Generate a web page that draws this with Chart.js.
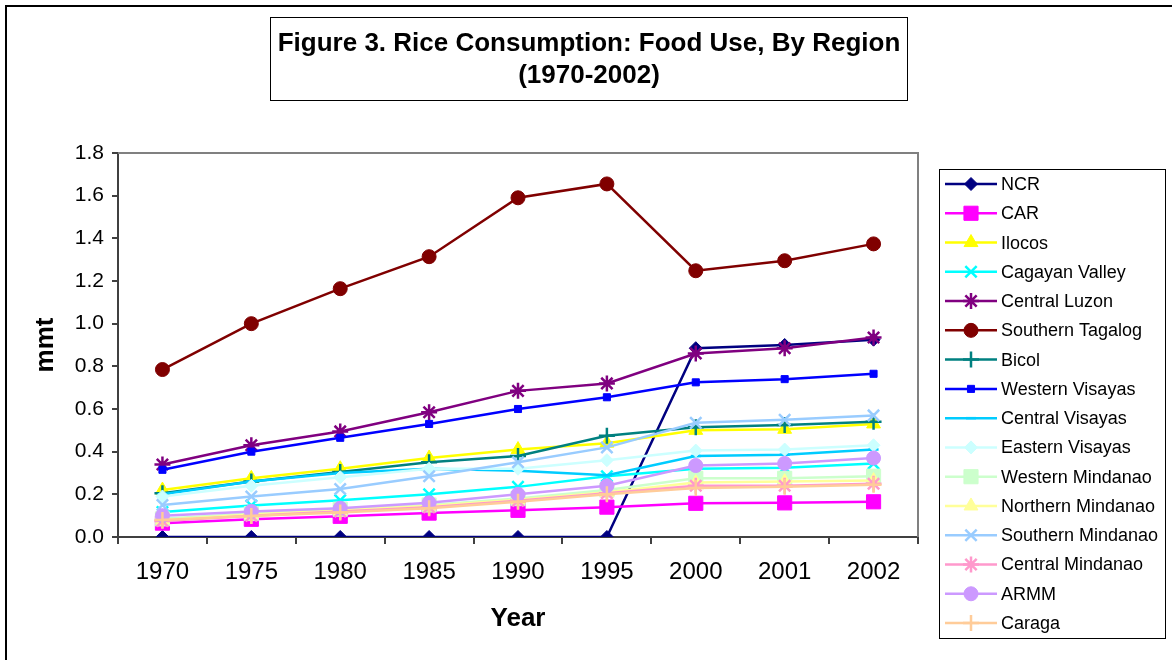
<!DOCTYPE html>
<html>
<head>
<meta charset="utf-8">
<script src="https://cdn.jsdelivr.net/npm/chart.js@4.4.1/dist/chart.umd.min.js"></script>
<style>
  html, body { margin: 0; padding: 0; background: #fff; }
  #wrap { width: 1172px; height: 660px; }
</style>
</head>
<body>
<div id="wrap"><canvas id="chartRice" width="1172" height="660"></canvas></div>
<script>
// data (mmt)
const years = ['1970', '1975', '1980', '1985', '1990', '1995', '2000', '2001', '2002'];
const yTicks = [0, 0.2, 0.4, 0.6, 0.8, 1.0, 1.2, 1.4, 1.6, 1.8];

const ncr              = [0, 0, 0, 0, 0, 0, 0.885, 0.90, 0.925];
const car              = [0.065, 0.083, 0.097, 0.112, 0.125, 0.140, 0.158, 0.160, 0.165];
const ilocos           = [0.22, 0.275, 0.32, 0.37, 0.41, 0.44, 0.50, 0.505, 0.53];
const cagayanValley    = [0.117, 0.148, 0.172, 0.20, 0.235, 0.285, 0.32, 0.325, 0.345];
const centralLuzon     = [0.34, 0.43, 0.495, 0.585, 0.685, 0.72, 0.86, 0.885, 0.935];
const southernTagalog  = [0.785, 1.0, 1.164, 1.314, 1.59, 1.655, 1.248, 1.295, 1.374];
const bicol            = [0.205, 0.26, 0.305, 0.35, 0.38, 0.475, 0.515, 0.525, 0.54];
const westernVisayas   = [0.315, 0.40, 0.465, 0.53, 0.60, 0.655, 0.725, 0.74, 0.765];
const centralVisayas   = [0.20, 0.26, 0.30, 0.32, 0.31, 0.29, 0.38, 0.385, 0.41];
const easternVisayas   = [0.19, 0.24, 0.28, 0.32, 0.32, 0.36, 0.405, 0.41, 0.43];
const westernMindanao  = [0.085, 0.11, 0.13, 0.15, 0.18, 0.22, 0.275, 0.275, 0.285];
const northernMindanao = [0.08, 0.105, 0.125, 0.145, 0.175, 0.21, 0.255, 0.26, 0.265];
const southernMindanao = [0.15, 0.19, 0.225, 0.285, 0.35, 0.42, 0.535, 0.55, 0.57];
const centralMindanao  = [0.075, 0.10, 0.12, 0.14, 0.17, 0.205, 0.24, 0.24, 0.25];
const armm             = [0.10, 0.12, 0.135, 0.16, 0.20, 0.24, 0.335, 0.345, 0.37];
const caraga           = [0.08, 0.098, 0.115, 0.135, 0.165, 0.20, 0.23, 0.235, 0.245];

const regions = ['NCR', 'CAR', 'Ilocos', 'Cagayan Valley', 'Central Luzon', 'Southern Tagalog', 'Bicol',
  'Western Visayas', 'Central Visayas', 'Eastern Visayas', 'Western Mindanao', 'Northern Mindanao',
  'Southern Mindanao', 'Central Mindanao', 'ARMM', 'Caraga'];
const values = [ncr, car, ilocos, cagayanValley, centralLuzon, southernTagalog, bicol, westernVisayas,
  centralVisayas, easternVisayas, westernMindanao, northernMindanao, southernMindanao, centralMindanao, armm, caraga];

// colours and markers (Excel style)
const colors = ['#000080', '#FF00FF', '#FFFF00', '#00FFFF', '#800080', '#800000', '#008080', '#0000FF',
  '#00CCFF', '#CCFFFF', '#CCFFCC', '#FFFF99', '#99CCFF', '#FF99CC', '#CC99FF', '#FFCC99'];
const markers = ['rectRot', 'rect', 'triangle', 'crossRot', 'star', 'circle', 'cross', 'rect',
  'line', 'rectRot', 'rect', 'triangle', 'crossRot', 'star', 'circle', 'cross'];
const markerSize = [6.5, 10, 8, 8, 8, 7, 8, 5, 5, 6.5, 10, 8, 8, 8, 7, 8];

const FONT = "'Liberation Sans', Arial, sans-serif";
const strokeOnly = ['crossRot', 'star', 'cross', 'line'];

const datasets = regions.map((name, i) => ({
  label: name,
  data: values[i],
  borderColor: colors[i],
  backgroundColor: colors[i],
  borderWidth: 2.5,
  pointStyle: markers[i],
  pointRadius: markerSize[i],
  pointHoverRadius: markerSize[i],
  pointBorderWidth: strokeOnly.includes(markers[i]) ? 2.5 : 1,
  pointBorderColor: colors[i],
  pointBackgroundColor: colors[i],
  tension: 0,
  order: -i
}));

const framePlugin = {
  id: 'frames',
  beforeDraw(chart) {
    const c = chart.ctx;
    c.save();
    c.fillStyle = '#fff';
    c.fillRect(0, 0, chart.width, chart.height);
    // outer chart border
    c.strokeStyle = '#000';
    c.lineWidth = 2;
    c.strokeRect(6, 6, chart.width + 20, chart.height + 20);
    // title box
    c.lineWidth = 1;
    c.strokeRect(270.5, 17.5, 637, 83);
    c.fillStyle = '#000';
    c.font = 'bold 26px ' + FONT;
    c.textAlign = 'center';
    c.textBaseline = 'middle';
    c.fillText('Figure 3. Rice Consumption: Food Use, By Region', 589, 44);
    c.fillText('(1970-2002)', 589, 76);
    // axis titles
    c.fillText('Year', 518, 619);
    c.translate(46, 345);
    c.rotate(-Math.PI / 2);
    c.fillText('mmt', 0, 0);
    c.restore();
  },
  beforeDatasetsDraw(chart) {
    const a = chart.chartArea;
    const c = chart.ctx;
    c.save();
    c.strokeStyle = '#808080';
    c.lineWidth = 2;
    c.beginPath();
    c.moveTo(a.left, a.top);
    c.lineTo(a.right, a.top);
    c.lineTo(a.right, a.bottom);
    c.stroke();
    c.restore();
  },
  afterDraw(chart) {
    const c = chart.ctx;
    c.save();
    c.strokeStyle = '#000';
    c.lineWidth = 1;
    c.strokeRect(939.5, 169.5, 226, 469);
    c.font = '18px ' + FONT;
    c.textAlign = 'left';
    c.textBaseline = 'middle';
    chart.data.datasets.forEach((ds, i) => {
      const y = 184 + i * 29.27;
      c.strokeStyle = ds.borderColor;
      c.lineWidth = 2.5;
      c.beginPath();
      c.moveTo(945, y);
      c.lineTo(997, y);
      c.stroke();
      c.fillStyle = ds.pointBackgroundColor;
      c.strokeStyle = ds.pointBorderColor;
      c.lineWidth = ds.pointBorderWidth;
      Chart.helpers.drawPoint(c, {
        pointStyle: ds.pointStyle,
        radius: ds.pointRadius,
        borderWidth: ds.pointBorderWidth,
        rotation: 0
      }, 971, y);
      c.fillStyle = '#000';
      c.fillText(ds.label, 1001, y + 1);
    });
    c.restore();
  }
};

const ctx = document.getElementById('chartRice').getContext('2d');
new Chart(ctx, {
  type: 'line',
  data: { labels: years, datasets: datasets },
  plugins: [framePlugin],
  options: {
    responsive: false,
    animation: false,
    devicePixelRatio: 1,
    layout: { padding: { left: 0, top: 153, right: 254, bottom: 0 } },
    plugins: {
      legend: { display: false },
      title: { display: false },
      tooltip: { enabled: false }
    },
    scales: {
      x: {
        offset: true,
        grid: { offset: true, drawOnChartArea: false, tickLength: 7, color: '#404040', lineWidth: 2 },
        border: { color: '#404040', width: 2 },
        ticks: { color: '#000', font: { family: FONT, size: 24 }, padding: 14, maxRotation: 0 },
        afterFit(scale) { scale.height = 123; }
      },
      y: {
        min: 0,
        max: 1.8,
        afterBuildTicks(scale) { scale.ticks = yTicks.map(v => ({ value: v })); },
        grid: { drawOnChartArea: false, tickLength: 6, color: '#404040', lineWidth: 2 },
        border: { color: '#404040', width: 2 },
        ticks: { color: '#000', font: { family: FONT, size: 21 }, padding: 8, callback: v => Number(v).toFixed(1) },
        afterFit(scale) { scale.width = 118; }
      }
    }
  }
});
</script>
</body>
</html>
